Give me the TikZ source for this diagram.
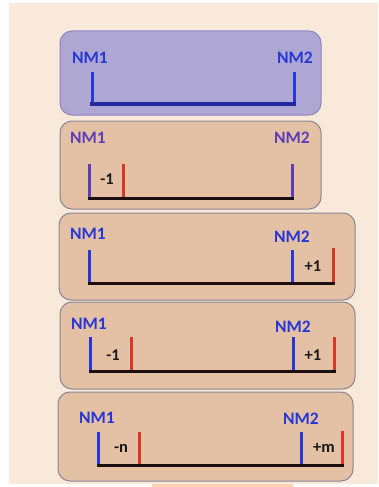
\documentclass[tikz,border=0pt]{standalone}
\usepackage{fontspec}
\setmainfont{Carlito}
\begin{document}
\begin{tikzpicture}[x=1pt,y=-1pt,
  panel/.style={draw=paneledge,line width=1pt,rounded corners=12pt},
  nmlabel/.style={font=\bfseries\fontsize{17.5}{19}\selectfont,inner sep=0pt,anchor=center},
  offset/.style={font=\bfseries\fontsize{16.5}{18}\selectfont,text=black!90,inner sep=0pt,anchor=center},
  tick/.style={line width=3pt},
  base/.style={line width=3pt,draw=baseline,line cap=rect}]
\definecolor{paper}{RGB}{249,233,219}
\definecolor{lilac}{RGB}{174,166,211}
\definecolor{lilacedge}{RGB}{140,132,190}
\definecolor{tan}{RGB}{228,192,164}
\definecolor{paneledge}{RGB}{138,134,150}
\definecolor{nmblue}{RGB}{40,56,214}
\definecolor{navy}{RGB}{34,40,160}
\definecolor{nmpurple}{RGB}{92,62,184}
\definecolor{cut}{RGB}{214,56,40}
\definecolor{baseline}{RGB}{26,14,14}
\definecolor{peach}{RGB}{250,212,176}

\useasboundingbox (0,0) rectangle (378,487);
% page and paper
\fill[white] (0,0) rectangle (378,487);
\fill[paper] (9,3) rectangle (378,484);
\fill[peach] (152,484) rectangle (293,487);

% ---- panel 1: unchanged fragment ----
\draw[panel,fill=lilac,draw=lilacedge] (60,31) rectangle (321,115);
\node[nmlabel,text=nmblue] (a1) at (90,58) {NM1};
\node[nmlabel,text=nmblue] (b1) at (295,58) {NM2};
\coordinate (a1t) at (92,72);  \coordinate (a1b) at (92,104);
\coordinate (b1t) at (294,72); \coordinate (b1b) at (294,104);
\draw[tick,draw=nmblue] (a1t) -- (a1b);
\draw[tick,draw=nmblue] (b1t) -- (b1b);
\draw[line width=3.2pt,draw=navy,line cap=rect] (a1b) -- (b1b);

% ---- panel 2: trimmed on the left ----
\draw[panel,fill=tan] (60,121) rectangle (321,209);
\node[nmlabel,text=nmpurple] (a2) at (88,138) {NM1};
\node[nmlabel,text=nmpurple] (b2) at (292,138) {NM2};
\coordinate (a2t) at (89,164);  \coordinate (a2b) at (89,198);
\coordinate (c2t) at (123,164); \coordinate (c2b) at (123,198);
\coordinate (b2t) at (292,164); \coordinate (b2b) at (292,198);
\draw[tick,draw=nmpurple] (a2t) -- (a2b);
\draw[tick,draw=cut] (c2t) -- (c2b);
\draw[tick,draw=nmpurple] (b2t) -- (b2b);
\draw[base] (a2b) -- (b2b);
\node[offset] (s2) at (107,179) {-1};

% ---- panel 3: extended on the right ----
\draw[panel,fill=tan] (59,213) rectangle (355,300);
\node[nmlabel,text=nmblue] (a3) at (88,234) {NM1};
\node[nmlabel,text=nmblue] (b3) at (292,237) {NM2};
\coordinate (a3t) at (89,250);  \coordinate (a3b) at (89,283);
\coordinate (b3t) at (292,250); \coordinate (b3b) at (292,283);
\coordinate (d3t) at (333,248); \coordinate (d3b) at (333,283);
\draw[tick,draw=nmblue] (a3t) -- (a3b);
\draw[tick,draw=nmblue] (b3t) -- (b3b);
\draw[tick,draw=cut] (d3t) -- (d3b);
\draw[base] (a3b) -- (d3b);
\node[offset] (e3) at (313,266) {+1};

% ---- panel 4: both ends moved by one ----
\draw[panel,fill=tan] (60,302) rectangle (355,389);
\node[nmlabel,text=nmblue] (a4) at (89,324) {NM1};
\node[nmlabel,text=nmblue] (b4) at (293,327) {NM2};
\coordinate (a4t) at (90,337);  \coordinate (a4b) at (90,371);
\coordinate (c4t) at (131,337); \coordinate (c4b) at (131,371);
\coordinate (b4t) at (293,337); \coordinate (b4b) at (293,371);
\coordinate (d4t) at (334,337); \coordinate (d4b) at (334,371);
\draw[tick,draw=nmblue] (a4t) -- (a4b);
\draw[tick,draw=cut] (c4t) -- (c4b);
\draw[tick,draw=nmblue] (b4t) -- (b4b);
\draw[tick,draw=cut] (d4t) -- (d4b);
\draw[base] (a4b) -- (d4b);
\node[offset] (s4) at (113,355) {-1};
\node[offset] (e4) at (313,355) {+1};

% ---- panel 5: general case ----
\draw[panel,fill=tan] (58,392) rectangle (353,481);
\node[nmlabel,text=nmblue] (a5) at (97,418) {NM1};
\node[nmlabel,text=nmblue] (b5) at (301,419) {NM2};
\coordinate (a5t) at (98,432);  \coordinate (a5b) at (98,465);
\coordinate (c5t) at (139,432); \coordinate (c5b) at (139,465);
\coordinate (b5t) at (301,432); \coordinate (b5b) at (301,465);
\coordinate (d5t) at (342,431); \coordinate (d5b) at (342,465);
\draw[tick,draw=nmblue] (a5t) -- (a5b);
\draw[tick,draw=cut] (c5t) -- (c5b);
\draw[tick,draw=nmblue] (b5t) -- (b5b);
\draw[tick,draw=cut] (d5t) -- (d5b);
\draw[base] (a5b) -- (d5b);
\node[offset] (s5) at (121,448) {-n};
\node[offset] (e5) at (324,448) {+m};
\end{tikzpicture}
\end{document}
